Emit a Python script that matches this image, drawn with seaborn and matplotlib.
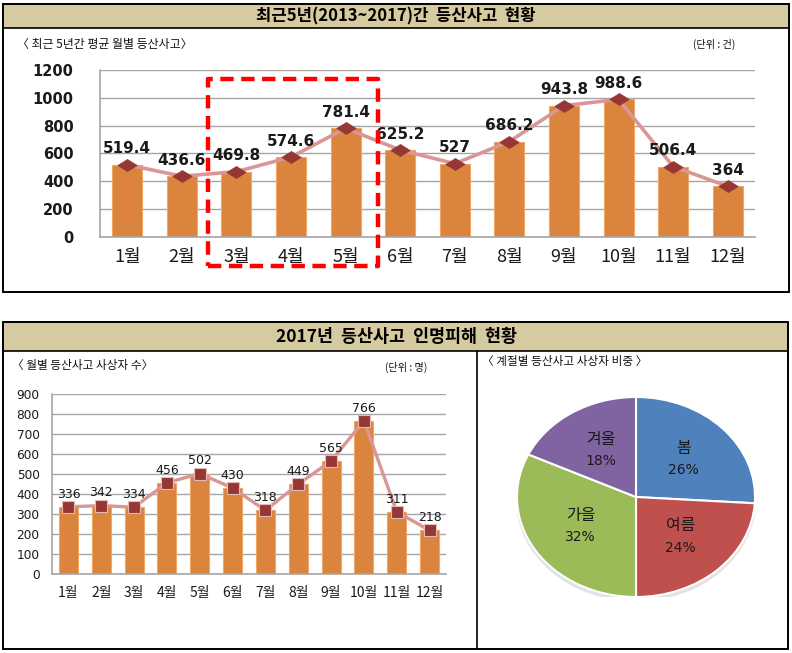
import numpy as np
import pandas as pd
import matplotlib
matplotlib.use("Agg")
import matplotlib.pyplot as plt
import seaborn as sns
from matplotlib.patches import Rectangle, Ellipse

# ---------------- data ----------------
months = ["1월", "2월", "3월", "4월", "5월", "6월", "7월", "8월", "9월", "10월", "11월", "12월"]
avg5 = [519.4, 436.6, 469.8, 574.6, 781.4, 625.2, 527, 686.2, 943.8, 988.6, 506.4, 364]
casualties = [336, 342, 334, 456, 502, 430, 318, 449, 565, 766, 311, 218]
seasons = ["봄", "여름", "가을", "겨울"]
season_pct = [26, 24, 32, 18]
top_yticks = [0, 200, 400, 600, 800, 1000, 1200]
bot_yticks = [0, 100, 200, 300, 400, 500, 600, 700, 800, 900]
highlight = ["3월", "4월", "5월"]

title_top = "최근5년(2013~2017)간  등산사고  현황"
title_bot = "2017년  등산사고  인명피해  현황"
sub_top = "〈 최근 5년간 평균 월별 등산사고〉"
unit_top = "(단위 : 건)"
sub_bot = "〈 월별 등산사고 사상자 수〉"
unit_bot = "(단위 : 명)"
sub_pie = "〈 계절별 등산사고 사상자 비중 〉"

# ---------------- style ----------------
sns.set_style("white")
KR = ["Noto Sans CJK KR", "DejaVu Sans"]
plt.rcParams["font.family"] = KR

BAR = "#db843d"
BAR_EDGE = "#f0a868"
LINE = "#d99694"
MARK = "#953735"
GRID = "#a6a6a6"
TAN = "#d6caa0"
PIE_COLORS = ["#4f81bd", "#c0504d", "#9bbb59", "#8064a2"]

W, H = 792, 653
fig = plt.figure(figsize=(W / 100, H / 100), dpi=100)
fig.patch.set_facecolor("white")


def rect(x0, y0, x1, y1):
    return [x0 / W, 1 - y1 / H, (x1 - x0) / W, (y1 - y0) / H]


# background / panel frames in pixel coordinates
bg = fig.add_axes([0, 0, 1, 1])
bg.set_xlim(0, W)
bg.set_ylim(H, 0)
bg.axis("off")
bg.set_zorder(0)

# top panel
bg.add_patch(Rectangle((3, 4), 786, 24, fc=TAN, ec="none"))
bg.add_patch(Rectangle((3, 4), 786, 288, fc="none", ec="black", lw=1.4))
bg.plot([3, 789], [28, 28], color="black", lw=1.2)
bg.text(396, 16.5, title_top, ha="center", va="center", fontsize=12,
        fontweight="bold", color="black")
bg.text(17, 44, sub_top, ha="left", va="center", fontsize=8.6, color="#111111")
bg.text(735, 44, unit_top, ha="right", va="center", fontsize=7.3, color="#111111")

# bottom panel
bg.add_patch(Rectangle((3, 322), 785, 29, fc=TAN, ec="none"))
bg.add_patch(Rectangle((3, 322), 785, 327, fc="none", ec="black", lw=1.4))
bg.plot([3, 788], [351, 351], color="black", lw=1.2)
bg.plot([477, 477], [351, 649], color="black", lw=1.2)
bg.text(396, 336.5, title_bot, ha="center", va="center", fontsize=12.5,
        fontweight="bold", color="black")
bg.text(12, 366, sub_bot, ha="left", va="center", fontsize=8.4, color="#111111")
bg.text(427, 367, unit_bot, ha="right", va="center", fontsize=7.3, color="#111111")
bg.text(482, 362, sub_pie, ha="left", va="center", fontsize=8.4, color="#111111")

# wide diamond marker
diamond = [(-1, 0), (0, 0.62), (1, 0), (0, -0.62), (-1, 0)]

# ---------------- top chart ----------------
ax1 = fig.add_axes(rect(100, 70, 755, 237))
ax1.set_zorder(1)
ax1.patch.set_alpha(0)
df1 = pd.DataFrame({"month": months, "value": avg5})
sns.barplot(data=df1, x="month", y="value", ax=ax1, color=BAR, saturation=1,
            width=0.55, edgecolor=BAR_EDGE, linewidth=0.8, errorbar=None, zorder=2)
pos = np.arange(len(months))
sns.lineplot(x=pos, y=avg5, ax=ax1, color=LINE, lw=2.6, zorder=3,
             marker=diamond, markersize=14, markerfacecolor=MARK,
             markeredgecolor=MARK, markeredgewidth=0.5)
for i, v in enumerate(avg5):
    ax1.annotate(f"{v:g}", (i, v), xytext=(0, 6), textcoords="offset points",
                 ha="center", va="bottom", fontsize=11, fontweight="bold",
                 family="DejaVu Sans", color="#1a1a1a", zorder=6)
ax1.set_xlim(-0.5, len(months) - 0.5)
ax1.set_ylim(0, 1200)
ax1.set_yticks(top_yticks)
ax1.set_yticklabels([str(t) for t in top_yticks], family="DejaVu Sans",
                    fontweight="bold", fontsize=10.5, color="#1a1a1a")
ax1.set_xticks(pos)
ax1.set_xticklabels(months, fontsize=13, color="#1a1a1a")
ax1.tick_params(axis="y", length=0, pad=19)
ax1.tick_params(axis="x", length=0, pad=8)
ax1.set_xlabel("")
ax1.set_ylabel("")
ax1.yaxis.grid(True, color=GRID, lw=1)
ax1.set_axisbelow(True)
for s in ["top", "right"]:
    ax1.spines[s].set_visible(False)
for s in ["left", "bottom"]:
    ax1.spines[s].set_color(GRID)
    ax1.spines[s].set_linewidth(1.2)

# red dashed highlight box around 3월~5월
i0 = months.index(highlight[0])
i1 = months.index(highlight[-1])
ax1.add_patch(Rectangle((i0 - 0.52, -208), (i1 - i0) + 1.11, 1343, fill=False,
                        ec="#ff0000", lw=3.2, ls=(0, (3.0, 1.7)),
                        clip_on=False, zorder=7, joinstyle="round"))

# ---------------- bottom-left chart ----------------
ax2 = fig.add_axes(rect(52, 394, 446, 574))
ax2.set_zorder(1)
ax2.patch.set_alpha(0)
df2 = pd.DataFrame({"month": months, "value": casualties})
sns.barplot(data=df2, x="month", y="value", ax=ax2, color=BAR, saturation=1,
            width=0.58, edgecolor=BAR_EDGE, linewidth=0.8, errorbar=None, zorder=2)
sns.lineplot(x=pos, y=casualties, ax=ax2, color=LINE, lw=2.4, zorder=3,
             marker="s", markersize=8, markerfacecolor=MARK,
             markeredgecolor="#e6b9b8", markeredgewidth=0.8)
for i, v in enumerate(casualties):
    ax2.annotate(f"{v}", (i, v), xytext=(0, 4.5), textcoords="offset points",
                 ha="center", va="bottom", fontsize=9,
                 family="DejaVu Sans", color="#1a1a1a", zorder=6)
ax2.set_xlim(-0.5, len(months) - 0.5)
ax2.set_ylim(0, 900)
ax2.set_yticks(bot_yticks)
ax2.set_yticklabels([str(t) for t in bot_yticks], family="DejaVu Sans",
                    fontsize=8.7, color="#1a1a1a")
ax2.set_xticks(pos)
ax2.set_xticklabels(months, fontsize=10, color="#1a1a1a")
ax2.tick_params(axis="y", length=0, pad=9)
ax2.tick_params(axis="x", length=0, pad=9)
ax2.set_xlabel("")
ax2.set_ylabel("")
ax2.yaxis.grid(True, color=GRID, lw=1)
ax2.set_axisbelow(True)
for s in ["top", "right"]:
    ax2.spines[s].set_visible(False)
for s in ["left", "bottom"]:
    ax2.spines[s].set_color(GRID)
    ax2.spines[s].set_linewidth(1.2)

# ---------------- pie ----------------
ax3 = fig.add_axes(rect(517, 397, 755, 597))
ax3.set_zorder(1)
ax3.add_patch(Ellipse((0.0, -0.025), 2.02, 2.04, fc="#cfcfcf", ec="none",
                      alpha=0.6, zorder=0))
wedges, _ = ax3.pie(season_pct, colors=PIE_COLORS, startangle=90,
                    counterclock=False, radius=1,
                    wedgeprops=dict(edgecolor="white", linewidth=1.5, zorder=1))
ax3.set_aspect("auto")
ax3.set_xlim(-1, 1)
ax3.set_ylim(-1, 1)
for w, name, p in zip(wedges, seasons, season_pct):
    ang = np.deg2rad((w.theta1 + w.theta2) / 2)
    cx, cy = 0.55 * np.cos(ang), 0.55 * np.sin(ang)
    ax3.annotate(name, (cx, cy), xytext=(0, 8), textcoords="offset points",
                 ha="center", va="center", fontsize=11.5, color="#1a1a1a")
    ax3.annotate(f"{p}%", (cx, cy), xytext=(0, -7.5), textcoords="offset points",
                 ha="center", va="center", fontsize=10, family="DejaVu Sans",
                 color="#1a1a1a")

fig.savefig("out.png", dpi=100, facecolor="white")
